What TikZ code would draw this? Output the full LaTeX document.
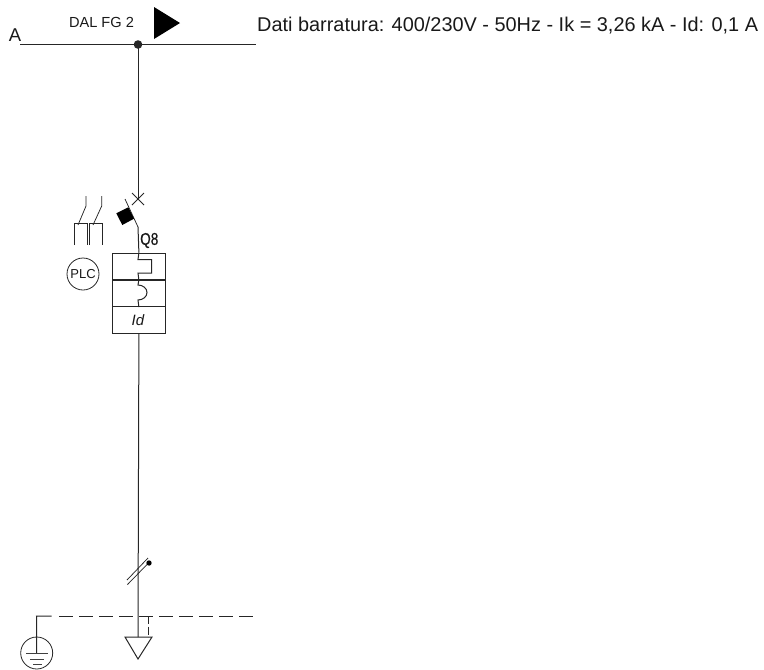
\documentclass[tikz,border=0pt]{standalone}
\usepackage{fontspec}
\setmainfont{Liberation Sans}
\newfontfamily\qfont[FakeStretch=0.8,FakeBold=0.4]{Liberation Sans}
\begin{document}
\begin{tikzpicture}[x=1pt,y=-1pt,
  wire/.style={line width=1pt,black!85},
  thin wire/.style={line width=0.75pt,black!85},
  dash wire/.style={line width=1pt,black!85,dash pattern=on 14pt off 6pt},
  lbl/.style={inner sep=0pt,text=black!90},
  boxcell/.style={draw=black!85,line width=0.9pt,minimum width=53.5pt,minimum height=26.7pt,inner sep=0pt,anchor=north west}]
\useasboundingbox (0,0) rectangle (764,670);
% busbar
\coordinate (busL) at (20,44.5);
\coordinate (busR) at (256,44.5);
\coordinate (tap) at (138,44.5);
\draw[wire] (busL) -- (busR);
\node[lbl,font=\fontsize{18.5}{20}\selectfont] (lblA) at (15,35) {A};
\node[lbl,font=\fontsize{14.6}{16}\selectfont] (lblDal) at (101.5,22.5) {DAL FG 2};
\fill[black] (154,7) -- (180,23) -- (154,39) -- cycle;
\node[lbl,anchor=west,font=\fontsize{19.9}{22}\selectfont] (lblDati) at (257,25.5) {Dati barratura: 400/230V - 50Hz - Ik = 3,26 kA - Id: 0,1 A};
% breaker
\coordinate (crossC) at (138,199);
\coordinate (bladeTop) at (125,199);
\coordinate (bladeEnd) at (138,227);
\draw[wire] (tap) -- (crossC);
\draw[thin wire] (132,193) -- (144,205) (144,193) -- (132,205);
\draw[thin wire] (bladeTop) -- (bladeEnd);
\fill[black] (116.3,213.3) -- (128.3,207.3) -- (134,218.7) -- (122.3,225) -- cycle;
\node[lbl,anchor=west,font=\fontsize{17}{18}\qfont] (lblQ) at (140,240.5) {Q8};
% protection boxes
\node[boxcell] (boxA) at (111.7,252.7) {};
\node[boxcell] (boxB) at (111.7,279.5) {};
\node[boxcell] (boxC) at (111.7,306.3) {};
\node[lbl,font=\fontsize{15}{17}\selectfont\itshape] (lblId) at (138,320) {Id};
\draw[wire] (bladeEnd) -- (boxA.north);
\draw[wire] (boxA.north) -- (138,259.5) -- (151.7,259.5) -- (151.7,273) -- (138,273) -- (boxA.south);
\draw[wire] (boxB.north) -- (138,285) arc[start angle=90,end angle=-90,x radius=9pt,y radius=7.5pt] -- (boxB.south);
% lower feeder
\coordinate (feedEnd) at (138,637);
\draw[wire] (boxC.south) -- (feedEnd);
\draw[thin wire] (127,580) -- (148,558);
\draw[thin wire] (127.5,584.5) -- (149,562.5);
\fill[black] (149,563) circle[radius=2.7pt];
% aux contacts
\draw[thin wire] (86,196) -- (86,206) -- (78,225);
\draw[thin wire] (74,245) -- (74,223) -- (87.5,223) -- (87.5,245);
\draw[thin wire] (101.7,196) -- (101.7,206) -- (93,225);
\draw[thin wire] (89.5,245) -- (89.5,223) -- (102.3,223) -- (102.3,245);
% PLC
\node[draw=black!85,line width=0.8pt,circle,minimum size=32pt,inner sep=0pt,font=\fontsize{13}{15}\selectfont,text=black!90] (plc) at (83,274) {PLC};
% PE
\coordinate (peL) at (36.5,616);
\coordinate (peC) at (51.7,616);
\coordinate (peS) at (59.3,616);
\coordinate (peR) at (256,616);
\node[draw=black!85,line width=0.8pt,circle,minimum size=32pt,inner sep=0pt] (gnd) at (36.7,653) {};
\draw[wire] (gnd.center) -- (gnd.north) -- (peL) -- (peC);
\draw[dash wire] (peS) -- (peR);
\draw[line width=1pt,black!75] (26,653) -- (48,653);
\draw[line width=0.9pt,black!75] (30,659) -- (44,659);
\draw[line width=0.9pt,black!75] (33,664.5) -- (42,664.5);
% arrow terminal
\draw[wire,line join=miter] (125,637) -- (152,637) -- (138,659) -- cycle;
\coordinate (peDrop) at (148.8,616);
\draw[line width=1pt,black!85,dash pattern=on 8pt off 2.5pt] (peDrop) -- (148.8,637);
\fill[black!85] (tap) circle[radius=4.3pt];
\end{tikzpicture}
\end{document}
